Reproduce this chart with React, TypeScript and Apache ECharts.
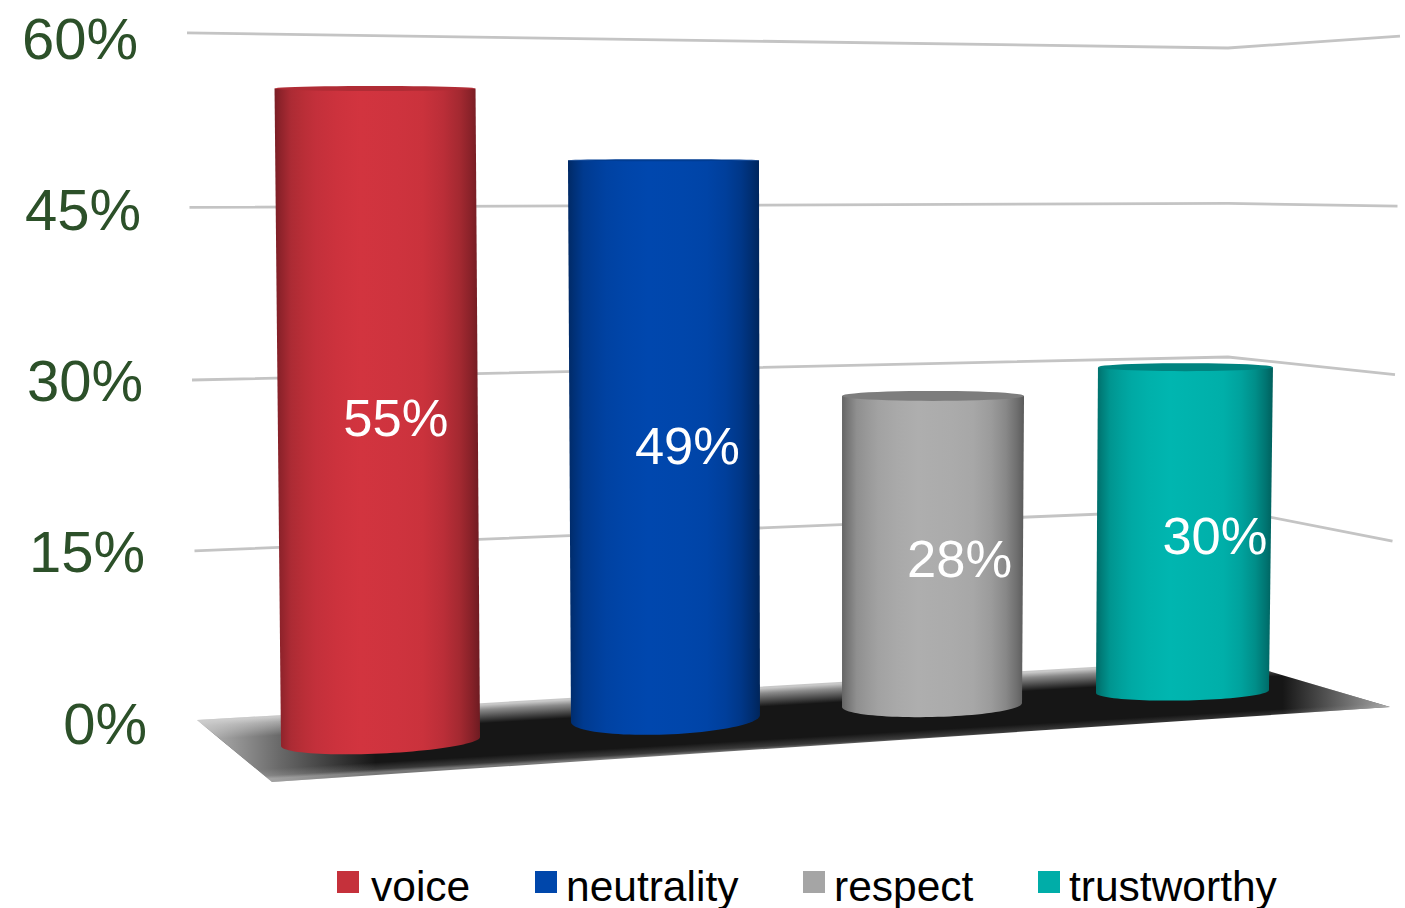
import React, { useEffect, useRef } from "react";
import * as echarts from "echarts";

// Chart content
const categories = ["voice", "neutrality", "respect", "trustworthy"];
const percentages = [55, 49, 28, 30];
const gridTicks = [0, 15, 30, 45, 60];

// Look of the chart
const FONT = "'Liberation Sans', Arial, sans-serif";
const barColors = ["#d2343f", "#0047ae", "#aeaeae", "#00b6b0"];
const legendColors = ["#c5313b", "#0047ab", "#a5a5a5", "#00ada8"];
const legendLefts = [337, 535, 803, 1038];
const legendTextGaps = [7, 4, 4, 4];
const tickLabelPads = [0, 2, 4, 6, 9];
const cylinderShades: [number, number][] = [
  [0, 0.58], [0.03, 0.68], [0.08, 0.82], [0.14, 0.88], [0.2, 0.93], [0.3, 0.97], [0.42, 1],
  [0.6, 0.98], [0.72, 0.96], [0.82, 0.89], [0.9, 0.78], [0.96, 0.64], [1, 0.52],
];

// Perspective placement of each cylinder, relative to its category band and the value axis
const cylinderPlacement = [
  { shift: 34.4, lean: -5.5, radius: 99.5, depth: 18.5, heightScale: 1.04, baseRy: 12, baseTilt: -0.045, topRy: 2.5, labelDx: 18, labelDy: 3 },
  { shift: 21.1, lean: -2, radius: 94.5, depth: -4.5, heightScale: 0.998, baseRy: 16, baseTilt: -0.037, topRy: 1, labelDx: 23, labelDy: 6 },
  { shift: -10.6, lean: 1, radius: 90, depth: -18, heightScale: 0.967, baseRy: 12, baseTilt: -0.022, topRy: 5, labelDx: 27, labelDy: 8 },
  { shift: -58.4, lean: 3, radius: 86.5, depth: -31.5, heightScale: 0.947, baseRy: 9, baseTilt: -0.017, topRy: 4, labelDx: 31, labelDy: 6 },
];

// Back wall and floor of the 3D scene
const wall = {
  left: { x: 197, y: 720, xPerUnit: -1 / 6, yScale: 1.003 },
  corner: { x: 1228, y: 659, xPerUnit: 0, yScale: 0.892 },
  right: { x: 1390, y: 706, xPerUnit: 1 / 6, yScale: 0.978 },
  bow: 0.0039,
};
const floorFront = { x: 272, y: 782 };
const floorRight = { x: 1390, y: 707 };

function shade(hex: string, k: number) {
  const n = parseInt(hex.slice(1), 16);
  const c = [(n >> 16) & 255, (n >> 8) & 255, n & 255].map((v) => Math.round(v * k));
  return `rgb(${c[0]},${c[1]},${c[2]})`;
}

// Points along an ellipse arc with a slight tilt, for the cylinder caps and bases
function arc(cx: number, cy: number, rx: number, ry: number, tilt: number, from: number, to: number) {
  const pts: number[][] = [];
  const steps = 48;
  for (let i = 0; i <= steps; i++) {
    const t = from + ((to - from) * i) / steps;
    const dx = rx * Math.cos(t);
    pts.push([cx + dx, cy + ry * Math.sin(t) + tilt * dx]);
  }
  return pts;
}

function renderCylinder(params: any, api: any) {
  const index = api.value(0) as number;
  const value = api.value(1) as number;
  const p = cylinderPlacement[index];
  const color = barColors[index];
  const zero = api.coord([index, 0]);
  const baseX = zero[0] + p.shift;
  const baseY = zero[1] + p.depth;
  const height = api.size([0, value])[1] * p.heightScale;
  const topX = baseX + p.lean;
  const topY = baseY - height;
  const topRadius = p.radius + 1;

  const body = [
    ...arc(baseX, baseY, p.radius, p.baseRy, p.baseTilt, 0, Math.PI),
    [topX - topRadius, topY],
    [topX + topRadius, topY],
  ];
  const cap = arc(topX, topY, topRadius, p.topRy, 0, 0, Math.PI * 2);

  return {
    type: "group",
    children: [
      {
        type: "polygon",
        shape: { points: body },
        style: {
          fill: new echarts.graphic.LinearGradient(
            0, 0, 1, 0,
            cylinderShades.map(([offset, k]) => ({ offset, color: shade(color, k) }))
          ),
        },
      },
      {
        type: "polygon",
        shape: { points: cap },
        style: { fill: shade(color, index < 2 ? 0.84 : 0.72) },
      },
      {
        type: "text",
        style: {
          text: `${value}%`,
          x: (baseX + topX) / 2 + p.labelDx,
          y: (baseY + topY) / 2 + p.labelDy,
          fill: "#ffffff",
          font: `52.5px ${FONT}`,
          align: "center",
          verticalAlign: "middle",
        },
      },
    ],
  };
}

function renderGridLine(params: any, api: any) {
  const value = api.value(1) as number;
  if (value === 0) return { type: "group", children: [] };
  const rise = api.size([0, value])[1];
  const bend = wall.bow * value * (60 - value);
  const point = (w: { x: number; y: number; xPerUnit: number; yScale: number }) => [
    w.x + w.xPerUnit * value,
    w.y - rise * w.yScale + bend,
  ];
  return {
    type: "polyline",
    shape: { points: [point(wall.left), point(wall.corner), point(wall.right)] },
    style: { stroke: "#c4c4c4", lineWidth: 2.8, fill: "none" },
  };
}

function renderFloor() {
  const outline = [
    [wall.left.x, wall.left.y],
    [wall.corner.x, wall.corner.y],
    [floorRight.x, floorRight.y],
    [floorFront.x, floorFront.y],
  ];
  return {
    type: "group",
    children: [
      {
        type: "polygon",
        shape: { points: outline },
        style: {
          fill: new echarts.graphic.LinearGradient(
            700, 692, 703.6, 753,
            [
              { offset: 0, color: "#c8c8c8" },
              { offset: 0.08, color: "#8a8a8a" },
              { offset: 0.3, color: "#161616" },
              { offset: 0.84, color: "#161616" },
              { offset: 0.95, color: "#3a3a3a" },
              { offset: 1, color: "#777777" },
            ],
            true
          ),
        },
      },
      {
        type: "polygon",
        shape: { points: outline },
        style: {
          fill: new echarts.graphic.LinearGradient(
            197, 0, 1390, 0,
            [
              { offset: 0, color: "rgba(205,205,205,0.9)" },
              { offset: 0.07, color: "rgba(205,205,205,0.45)" },
              { offset: 0.15, color: "rgba(205,205,205,0)" },
              { offset: 0.91, color: "rgba(205,205,205,0)" },
              { offset: 1, color: "rgba(205,205,205,0.8)" },
            ],
            true
          ),
        },
      },
    ],
  };
}

export default function App() {
  const ref = useRef<HTMLDivElement>(null);

  useEffect(() => {
    const chart = echarts.init(ref.current!, undefined, { renderer: "svg" });
    const tickRich: Record<string, any> = {};
    gridTicks.forEach((tick, i) => {
      tickRich[`t${tick}`] = {
        fontFamily: FONT,
        fontSize: 58,
        color: "#2c5029",
        padding: [0, tickLabelPads[i], 0, 0],
      };
    });

    chart.setOption({
      animation: false,
      backgroundColor: "#ffffff",
      grid: { left: 197, right: 15, top: 38, bottom: 185, containLabel: false },
      xAxis: { type: "category", data: categories, show: false },
      yAxis: {
        type: "value",
        min: 0,
        max: 60,
        interval: 15,
        axisLine: { show: false },
        axisTick: { show: false },
        splitLine: { show: false },
        axisLabel: {
          margin: 50,
          formatter: (v: number) => `{t${v}|${v}%}`,
          rich: tickRich,
        },
      },
      legend: categories.map((name, i) => ({
        data: [name],
        left: legendLefts[i],
        top: 865,
        padding: 0,
        itemWidth: 22,
        itemHeight: 22,
        icon: "rect",
        selectedMode: false,
        formatter: (label: string) => `{entry|${label}}`,
        textStyle: {
          rich: {
            entry: {
              fontFamily: FONT,
              fontSize: 42.5,
              color: "#000000",
              lineHeight: 52,
              verticalAlign: "bottom",
              padding: [0, 0, 0, legendTextGaps[i]],
            },
          },
        },
      })),
      series: [
        {
          type: "custom",
          name: "grid",
          z: 1,
          renderItem: renderGridLine,
          data: gridTicks.map((tick, i) => [i, tick]),
          encode: { x: 0, y: 1 },
          silent: true,
        },
        {
          type: "custom",
          name: "floor",
          z: 2,
          renderItem: renderFloor,
          data: [[0, 0]],
          encode: { x: 0, y: 1 },
          silent: true,
        },
        ...categories.map((name, i) => ({
          type: "custom",
          name,
          z: 3,
          clip: false,
          itemStyle: { color: legendColors[i] },
          renderItem: renderCylinder,
          data: [[i, percentages[i]]],
          encode: { x: 0, y: 1 },
        })),
      ],
    });
    return () => chart.dispose();
  }, []);

  return (
    <div
      ref={ref}
      style={{ position: "absolute", left: 0, top: 0, width: 1405, height: 908 }}
    />
  );
}
